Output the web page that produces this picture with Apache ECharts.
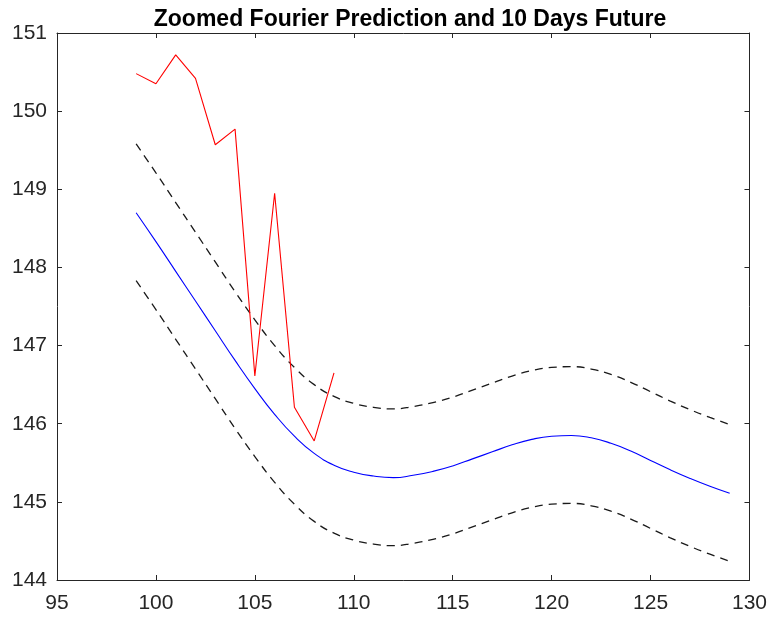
<!DOCTYPE html>
<html>
<head>
<meta charset="utf-8">
<script src="https://cdn.jsdelivr.net/npm/echarts@6/dist/echarts.min.js"></script>
<style>html,body{margin:0;padding:0;background:#fff;}#c{width:770px;height:622px;}</style>
</head>
<body>
<div id="c"></div>
<script>
const actualX = [99,100,101,102,103,104,105,106,107,108,109];
const actualY = [150.48,150.35,150.72,150.42,149.57,149.77,146.61,148.95,146.21,145.78,146.65];

const fitX = [99,100,101,102,103,104,105,106,107,108,109,110,111,112,113,114,115,116,117,118,119,120,121,122,123,124,125,126,127,128,129];
const fitY = [148.70,148.33,147.95,147.57,147.19,146.81,146.45,146.12,145.84,145.62,145.47,145.38,145.33,145.31,145.34,145.39,145.46,145.55,145.64,145.73,145.80,145.84,145.85,145.82,145.75,145.65,145.53,145.41,145.30,145.20,145.11];
const upperY = [149.58,149.21,148.83,148.45,148.07,147.69,147.33,147.00,146.72,146.50,146.35,146.26,146.21,146.19,146.22,146.27,146.34,146.43,146.52,146.61,146.68,146.72,146.73,146.70,146.63,146.53,146.41,146.29,146.18,146.08,145.99];
const lowerY = [147.83,147.46,147.08,146.70,146.32,145.94,145.58,145.25,144.97,144.75,144.60,144.51,144.46,144.44,144.47,144.52,144.59,144.68,144.77,144.86,144.93,144.97,144.98,144.95,144.88,144.78,144.66,144.54,144.43,144.33,144.24];

const xTicks = [95,100,105,110,115,120,125,130];
const yTicks = [144,145,146,147,148,149,150,151];
const titleText = 'Zoomed Fourier Prediction and 10 Days Future';

const zip = (xs, ys) => xs.map((x, i) => [x, ys[i]]);
const axisColor = '#262626';
const font = 'Liberation Sans, Arial, sans-serif';

const chart = echarts.init(document.getElementById('c'), null, {renderer: 'canvas'});
const baseX = {
  type: 'value', min: xTicks[0], max: xTicks[xTicks.length-1], interval: 5,
  axisLine: {show: true, onZero: false, lineStyle: {color: axisColor, width: 1}},
  axisTick: {show: true, inside: true, length: 5, lineStyle: {color: axisColor}},
  splitLine: {show: false}
};
const baseY = {
  type: 'value', min: yTicks[0], max: yTicks[yTicks.length-1], interval: 1,
  axisLine: {show: true, onZero: false, lineStyle: {color: axisColor, width: 1}},
  axisTick: {show: true, inside: true, length: 5, lineStyle: {color: axisColor}},
  splitLine: {show: false}
};
chart.setOption({
  animation: false,
  backgroundColor: '#fff',
  title: {
    text: titleText, left: 405, top: 3, textAlign: 'center',
    textStyle: {fontFamily: font, fontWeight: 'bold', fontSize: 23, color: '#000'}
  },
  grid: {left: 57, right: 18, top: 33, bottom: 42, containLabel: false},
  xAxis: [
    Object.assign({}, baseX, {position: 'bottom',
      axisLabel: {show: true, color: axisColor, fontFamily: font, fontSize: 21, margin: 13}}),
    Object.assign({}, baseX, {position: 'top', axisLabel: {show: false}})
  ],
  yAxis: [
    Object.assign({}, baseY, {position: 'left',
      axisLabel: {show: true, color: axisColor, fontFamily: font, fontSize: 21, margin: 10}}),
    Object.assign({}, baseY, {position: 'right', axisLabel: {show: false}})
  ],
  series: [
    {type: 'line', data: zip(fitX, upperY), showSymbol: false, smooth: true,
      lineStyle: {color: '#1a1a1a', width: 1.3, type: [8, 6]}},
    {type: 'line', data: zip(fitX, lowerY), showSymbol: false, smooth: true,
      lineStyle: {color: '#1a1a1a', width: 1.3, type: [8, 6]}},
    {type: 'line', data: zip(fitX, fitY), showSymbol: false, smooth: true,
      lineStyle: {color: '#0000ff', width: 1.1}},
    {type: 'line', data: zip(actualX, actualY), showSymbol: false, smooth: false,
      lineStyle: {color: '#ff0000', width: 1.1}}
  ]
});
</script>
</body>
</html>
